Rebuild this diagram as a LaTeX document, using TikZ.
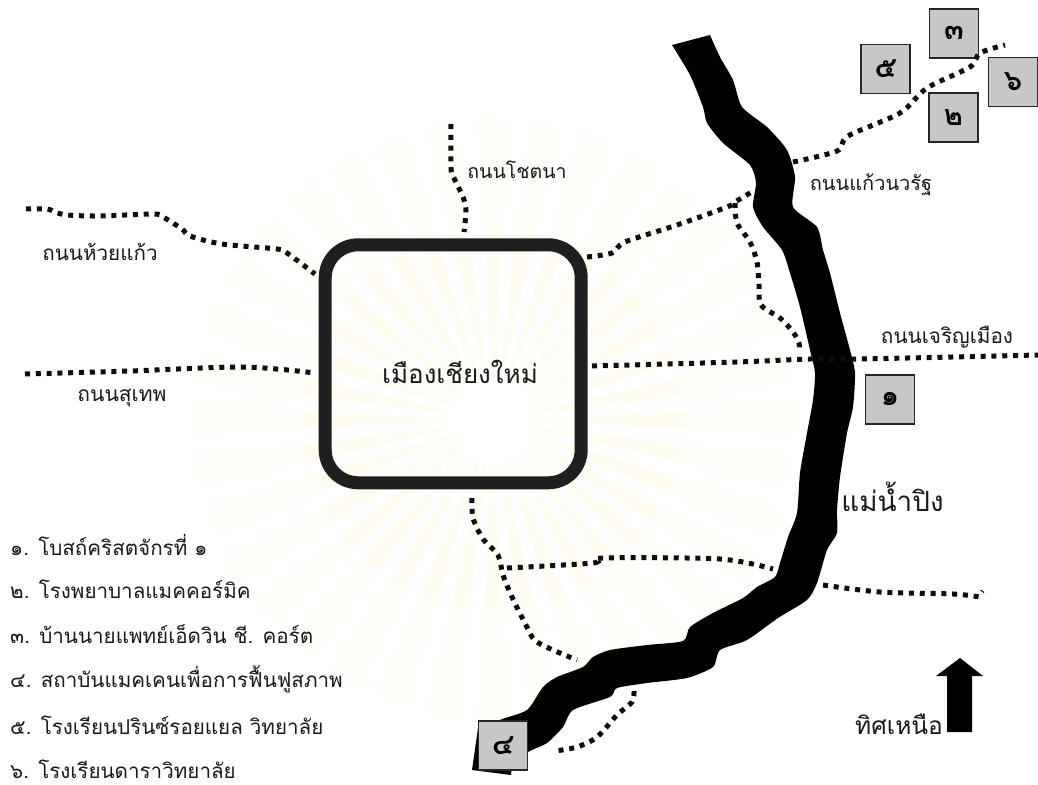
\documentclass[tikz,border=0pt]{standalone}
\usepackage{fontspec}
\setmainfont[Script=Thai]{Loma}
\definecolor{sealouter}{HTML}{FFFEF9}
\definecolor{sealinner}{HTML}{FFFDF2}
\tikzset{
  x=1pt,y=-1pt,
  road/.style={line width=5pt,dash pattern=on 5pt off 5.8pt,color=black!95},
  place/.style={draw=black!85,fill=black!22,line width=1.4pt,minimum size=49pt,inner sep=0pt,font=\bfseries\fontsize{29}{32}\selectfont},
  label/.style={inner sep=0pt,text=black!90},
  legend/.style={inner sep=0pt,anchor=west,text=black!90,font=\fontsize{20.6}{24}\selectfont},
  town/.style={draw=black!88,line width=13pt,rounded corners=33pt,minimum width=256pt,minimum height=238pt,inner sep=0pt}
}
\begin{document}
\begin{tikzpicture}
\useasboundingbox (0,0) rectangle (1038,784);
\fill[white] (0,0) rectangle (1038,784);
% faint watermark fan behind the map
\begin{scope}[shift={(493,420)}]
\foreach \a in {0,10,...,350}{
  \fill[sealouter] (\a-2:45pt) -- (\a-3:300pt) -- (\a+3:300pt) -- (\a+2:45pt) -- cycle;
  \fill[sealinner] (\a-2:45pt) -- (\a-2.5:190pt) -- (\a+2.5:190pt) -- (\a+2:45pt) -- cycle;
}
\end{scope}
% river
\fill[black] plot[smooth,tension=.4] coordinates {(710,35)(720,57)(733,80)(742,107)(767,127)(787,150)(795,177)(793,207)(817,227)(823,250)(830,273)(840,313)(850,350)(855,373)(853,407)(847,433)(840,477)(837,510)(837,533)(827,550)(817,583)(807,600)(778,618)(747,640)(720,650)(713,667)(687,678)(647,683)(617,688)(610,697)(573,710)(563,727)(547,743)(528,752)(500,770)(490,730)(500,720)(527,710)(543,687)(557,677)(583,667)(593,657)(610,650)(647,645)(683,641)(690,627)(713,613)(743,598)(757,587)(775,577)(780,563)(788,537)(797,513)(800,473)(807,433)(813,400)(815,373)(810,350)(800,307)(790,273)(782,250)(763,227)(753,207)(756,183)(750,165)(723,143)(707,123)(703,107)(690,75)(672,45)} -- cycle;
% north arrow
\fill[black] (960,658) -- (983,676) -- (972,676) -- (972,732) -- (947,732) -- (947,676) -- (936,676) -- cycle;
% place 4 and its shadow
\fill[black] (479,721) -- (472,770) -- (511,775) -- (512,765) -- cycle;
\node[place] (p4) at (503,745.5) {๔};
\node[place] (p1) at (890,399.5) {๑};
\node[place] (p2) at (953.5,117.5) {๒};
\node[place] (p3) at (954,33.5) {๓};
\node[place] (p5) at (885.5,69) {๕};
\node[place] (p6) at (1013,82) {๖};
% town
\node[town] (town) at (453.2,363.8) {};
\node[inner sep=0pt,text=black!90,font=\fontsize{26}{30}\selectfont] (townname) at (460,372) {เมืองเชียงใหม่};
% roads
\draw[road] plot[smooth,tension=.5] coordinates {(451,124)(451,168)(454,178)(463,197)(466,210)(464,232)};
\draw[road] plot[smooth,tension=.5] coordinates {(26,209)(47,209)(55,212)(67,215)(100,216)(153,214)(163,217)(182,229)(190,236)(222,244)(277,249)(287,253)(315,274)};
\draw[road] plot[smooth,tension=.5] coordinates {(25,374)(130,371)(243,367)(315,373)};
\draw[road] plot[smooth,tension=.5] coordinates {(587,257)(612,253)(625,242)(677,225)(727,207)(735,202)(755,190)};
\draw[road] plot[smooth,tension=.5] coordinates {(735,203)(737,223)(750,242)(757,262)(759,285)(761,305)(780,318)(793,332)(799,343)(799,353)};
\draw[road] plot[smooth,tension=.5] coordinates {(793,162)(837,151)(848,136)(900,113)(927,88)(970,67)(980,53)(1005,45)};
\draw[road] plot[smooth,tension=.5] coordinates {(592,366)(737,362)(810,359)(860,359)(1038,355)};
\draw[road] plot[smooth,tension=.5] coordinates {(472,498)(473,518)(483,539)(498,555)(503,575)(512,597)(525,623)(537,642)(577,660)};
\draw[road] plot[smooth,tension=.5] coordinates {(507,568)(593,563)(603,558)(720,559)(773,569)};
\draw[road] plot[smooth,tension=.5] coordinates {(823,585)(880,592)(953,594)(980,597)};
\draw[road] plot[smooth,tension=.5] coordinates {(634,691)(632,702)(617,715)(597,737)(577,747)(555,751)};
\draw[black,line width=1pt] (980.5,590) -- (984,592.5);
% labels
\node[label,font=\fontsize{19.5}{23}\selectfont] (chotana) at (517,170) {ถนนโชตนา};
\node[label,font=\fontsize{20.6}{24}\selectfont] (huaikaew) at (100,252) {ถนนห้วยแก้ว};
\node[label,font=\fontsize{21}{24}\selectfont] (suthep) at (122,398) {ถนนสุเทพ};
\node[label,font=\fontsize{20}{24}\selectfont] (kaewnawarat) at (871,185) {ถนนแก้วนวรัฐ};
\node[label,font=\fontsize{20.7}{24}\selectfont] (charoen) at (947,337) {ถนนเจริญเมือง};
\node[label,font=\fontsize{27.8}{32}\selectfont] (ping) at (892.5,497) {แม่น้ำปิง};
\node[label,font=\fontsize{24.5}{28}\selectfont] (north) at (899,724) {ทิศเหนือ};
% legend
\node[legend] (l1) at (10,545) {๑. โบสถ์คริสตจักรที่ ๑};
\node[legend] (l2) at (10,589) {๒. โรงพยาบาลแมคคอร์มิค};
\node[legend] (l3) at (10,634) {๓. บ้านนายแพทย์เอ็ดวิน ชี. คอร์ต};
\node[legend] (l4) at (10,679) {๔. สถาบันแมคเคนเพื่อการฟื้นฟูสภาพ};
\node[legend] (l5) at (10,725) {๕. โรงเรียนปรินซ์รอยแยล วิทยาลัย};
\node[legend] (l6) at (10,769) {๖. โรงเรียนดาราวิทยาลัย};
\end{tikzpicture}
\end{document}
